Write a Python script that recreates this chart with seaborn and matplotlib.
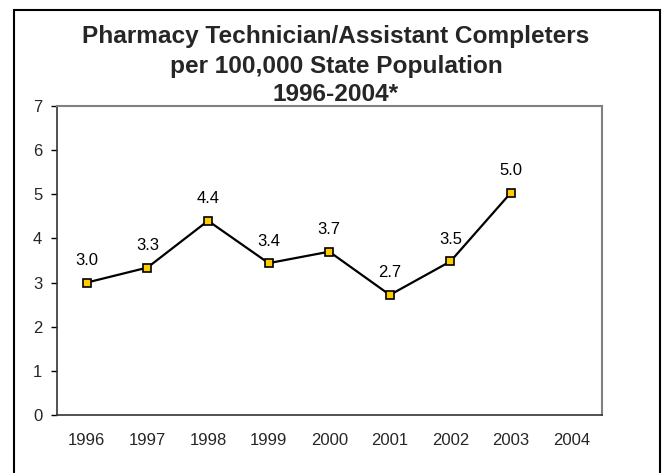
import numpy as np
import pandas as pd
import matplotlib
matplotlib.use('Agg')
import matplotlib.pyplot as plt
from matplotlib.patches import Rectangle
import seaborn as sns

# datos
years = ['1996', '1997', '1998', '1999', '2000', '2001', '2002', '2003', '2004']
values = [3.0, 3.34, 4.4, 3.44, 3.7, 2.72, 3.48, 5.04, np.nan]
title_lines = ['Pharmacy Technician/Assistant Completers',
               'per 100,000 State Population',
               '1996-2004*']

df = pd.DataFrame({'Year': years, 'Rate': values})

sns.set_style('white')
plt.rcParams['font.family'] = ['Liberation Sans', 'DejaVu Sans']

W, H = 665, 473
fig = plt.figure(figsize=(W / 100, H / 100), dpi=100)
ax = fig.add_axes([56.5 / W, 1 - 415 / H, (602 - 56.5) / W, (415 - 106) / H])

sns.pointplot(
    data=df, x='Year', y='Rate', order=years,
    color='black', markers='s', errorbar=None,
    markersize=6.2, markerfacecolor='#FFCC00', markeredgecolor='black',
    markeredgewidth=1.2, linewidth=1.6, ax=ax
)

# etiquetas de datos
for i, v in enumerate(values):
    if not np.isnan(v):
        ax.annotate(f'{v:.1f}', (i, v), xytext=(0, 15.8), textcoords='offset points',
                    ha='center', va='center', fontsize=12, color='black')

ax.set_ylim(0, 7)
ax.set_xlim(-0.5, 8.5)
ax.set_yticks(range(0, 8))
ax.set_xlabel('')
ax.set_ylabel('')
ax.tick_params(axis='x', length=0, pad=13, labelsize=12)
ax.tick_params(axis='y', length=4.3, width=1, pad=6, labelsize=12, left=True, color='black')

for s in ['top', 'right']:
    ax.spines[s].set_color('#808080')
    ax.spines[s].set_linewidth(1.5)
for s in ['left', 'bottom']:
    ax.spines[s].set_color('#333333')
    ax.spines[s].set_linewidth(1.2)

# titulo en tres lineas
for txt, y in zip(title_lines, [43.5, 72.5, 101]):
    fig.text(336 / W, 1 - y / H, txt, ha='center', va='baseline',
             fontsize=17.6, fontweight='bold')

# marco exterior
fig.add_artist(Rectangle((14 / W, -0.02), (660 - 14) / W, (H - 10) / H + 0.02,
                         transform=fig.transFigure, fill=False,
                         edgecolor='black', linewidth=1.5, clip_on=False))

fig.savefig('out.png', dpi=100)
